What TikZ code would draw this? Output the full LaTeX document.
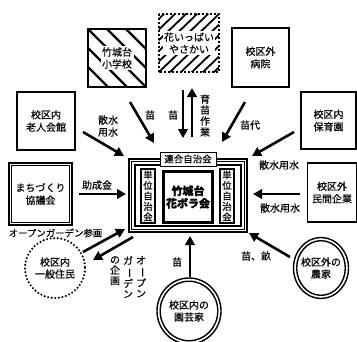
\documentclass[tikz,border=0pt]{standalone}
\usepackage{fontspec}
\setmainfont{Noto Sans CJK JP}[FakeBold=0.35, BoldFeatures={FakeBold=1.6}]
\usetikzlibrary{arrows.meta}
\newcommand\vbar{\rotatebox[origin=c]{-90}{ー}}
\begin{document}
\begin{tikzpicture}[x=1pt,y=-1pt,
  txt/.style={font=\fontsize{10}{12}\selectfont, align=center, inner sep=0pt},
  vtxt/.style={font=\fontsize{9.5}{10.5}\selectfont, align=center, inner sep=0pt},
  sbox/.style={draw, line width=1.6pt, inner sep=0pt, font=\fontsize{10}{12.5}\selectfont, align=center},
  arr/.style={line width=2.6pt, -{Triangle[length=9pt,width=9.5pt]}},
  hatch/.style={line width=2.4pt},
  frameline/.style={line width=1.2pt}
]
\useasboundingbox (0,0) rectangle (357,341);

% ---------- outer boxes ----------
% school (hatched)
\node[sbox, minimum width=58, minimum height=58] (school) at (117,58) {};
\begin{scope}
  \clip (school.north west) rectangle (school.south east);
  \foreach \d in {-57,-38,-19,0,19,38,57}
    \draw[hatch] ([xshift=\d]school.north west) -- ([xshift=\d]school.south east);
\end{scope}
\node[sbox] at (school) {};
\node[txt, fill=white, inner sep=1.5pt] (schooltxt) at (school) {竹城台\\小学校};

% flower (dotted, hatched)
\node[minimum width=60, minimum height=58, inner sep=0pt] (flower) at (189,43) {};
\begin{scope}
  \clip (flower.north west) rectangle (flower.south east);
  \foreach \d in {-66,-55,-44,-33,-22,-11,0,11,22,33,44,55,66}
    \draw[line width=1.8pt] ([xshift=\d]flower.south west) -- ([xshift=\d]flower.north east);
\end{scope}
\draw[line width=2pt, dash pattern=on 2pt off 2pt] (flower.north west) rectangle (flower.south east);
\node[txt, fill=white, inner sep=1.2pt] (flowertxt) at (flower) {花いっぱい\\やさかい};

% hospital
\node[sbox, minimum width=57, minimum height=59] (hospital) at (260.5,57.5) {校区外\\病院};
% elderly hall
\node[sbox, minimum width=58, minimum height=58] (elderly) at (46,121) {校区内\\老人会館};
% nursery
\node[sbox, minimum width=55, minimum height=57] (nursery) at (328.5,120.5) {校区内\\保育園};
% machizukuri (double)
\node[draw, line width=1.3pt, minimum width=63, minimum height=62, inner sep=0pt,
      font=\fontsize{10}{12.5}\selectfont, align=center] (machi) at (40.5,194) {まちづくり\\協議会};
\draw[line width=1.3pt] ([shift={(3.2,3.2)}]machi.north west) rectangle ([shift={(-3.2,-3.2)}]machi.south east);
% company
\node[sbox, minimum width=49, minimum height=59] (company) at (332,192.5) {校区外\\民間企業};

% resident (dotted circle)
\node[txt] (resident) at (55,268) {校区内\\一般住民};
\draw[line width=2.3pt, line cap=round, dash pattern=on 0pt off 3.6pt] (resident) circle [radius=30];
% farmer (double ellipse)
\node[txt] (farmer) at (321,268) {校区外の\\農家};
\draw[line width=1.4pt] (farmer) ellipse [x radius=27.5, y radius=30.5];
\draw[line width=1.4pt] (farmer) ellipse [x radius=24.3, y radius=27.3];
% gardener (double ellipse)
\node[txt] (gardener) at (189,311) {校区内の\\園芸家};
\draw[line width=1.4pt] (gardener) ellipse [x radius=32, y radius=33];
\draw[line width=1.4pt] (gardener) ellipse [x radius=28.8, y radius=29.8];

% ---------- centre ----------
\node[draw, frameline, minimum width=118, minimum height=73, inner sep=0pt] (frame) at (188,195.5) {};
\draw[frameline] ([shift={(3.3,3.3)}]frame.north west) rectangle ([shift={(-3.3,-3.3)}]frame.south east);
\draw[frameline] ([shift={(6.6,6.6)}]frame.north west) rectangle ([shift={(-6.6,-6.6)}]frame.south east);
\node[draw, line width=1pt, fill=white, minimum width=56, minimum height=14, inner sep=0pt,
      font=\fontsize{9.5}{11}\selectfont] (rengo) at (188,159) {連合自治会};

\node[draw, line width=1.8pt, minimum width=15, minimum height=55, inner sep=0pt] (unitL) at (148,196) {};
\draw[line width=0.8pt] ([shift={(2.2,2.2)}]unitL.north west) rectangle ([shift={(-2.2,-2.2)}]unitL.south east);
\node[vtxt] at (unitL) {単\\位\\自\\治\\会};
\node[draw, line width=1.8pt, minimum width=15, minimum height=55, inner sep=0pt] (unitR) at (227,196) {};
\draw[line width=0.8pt] ([shift={(2.2,2.2)}]unitR.north west) rectangle ([shift={(-2.2,-2.2)}]unitR.south east);
\node[vtxt] at (unitR) {単\\位\\自\\治\\会};

\node[draw, line width=1.8pt, minimum width=50, minimum height=52, inner sep=0pt] (kabora) at (188,197) {};
\draw[line width=0.8pt] ([shift={(2.4,2.4)}]kabora.north west) rectangle ([shift={(-2.4,-2.4)}]kabora.south east);
\node[font=\fontsize{11}{12.5}\selectfont\bfseries, align=center, inner sep=0pt] (kaboratxt) at (kabora) {竹城台\\花ボラ会};

% ---------- arrows ----------
\coordinate (s1) at (130,102); \coordinate (t1) at (154,143);
\coordinate (s2) at (183,90);  \coordinate (t2) at (183,138);
\coordinate (s3) at (192,137); \coordinate (t3) at (192,88);
\coordinate (s4) at (245,102); \coordinate (t4) at (222,142);
\coordinate (s5) at (294,132); \coordinate (t5) at (252,156);
\coordinate (s6) at (300,194); \coordinate (t6) at (253,194);
\coordinate (s7) at (290,257); \coordinate (t7) at (249,233);
\coordinate (s8) at (190,277); \coordinate (t8) at (190,236);
\coordinate (s9) at (83,132);  \coordinate (t9) at (124,156);
\coordinate (s10) at (79,194); \coordinate (t10) at (126,194);
\coordinate (s11) at (83,252); \coordinate (t11) at (125,229);
\coordinate (s12) at (133,237); \coordinate (t12) at (93,260);
\foreach \i in {1,...,12} \draw[arr] (s\i) -- (t\i);

% ---------- labels ----------
\node[txt] (l1) at (150,115) {苗};
\node[txt] (l2) at (173,115) {苗};
\node[vtxt, font=\fontsize{10}{11}\selectfont] (l3) at (205,115.5) {育\\苗\\作\\業};
\node[txt] (l4) at (250,125) {苗代};
\node[txt] (l5) at (279,165) {散水用水};
\node[txt] (l6) at (280,208) {散水用水};
\node[txt] (l7) at (256,256) {苗、畝};
\node[txt] (l8) at (177,262) {苗};
\node[txt] (l9) at (108,126) {散水\\用水};
\node[txt] (l10) at (97,185) {助成金};
\node[txt, font=\fontsize{9.4}{11}\selectfont] (l11) at (55.5,233) {オープンガーデン参画};
\node[vtxt, font=\fontsize{10}{10.5}\selectfont, anchor=north] (l12a) at (141,256) {オ\\\vbar\\プ\\ン};
\node[vtxt, font=\fontsize{10}{10.5}\selectfont, anchor=north] (l12b) at (128,256) {ガ\\\vbar\\デ\\ン};
\node[vtxt, font=\fontsize{10}{10.5}\selectfont, anchor=north] (l12c) at (115,256) {の\\企\\画};
\end{tikzpicture}
\end{document}
